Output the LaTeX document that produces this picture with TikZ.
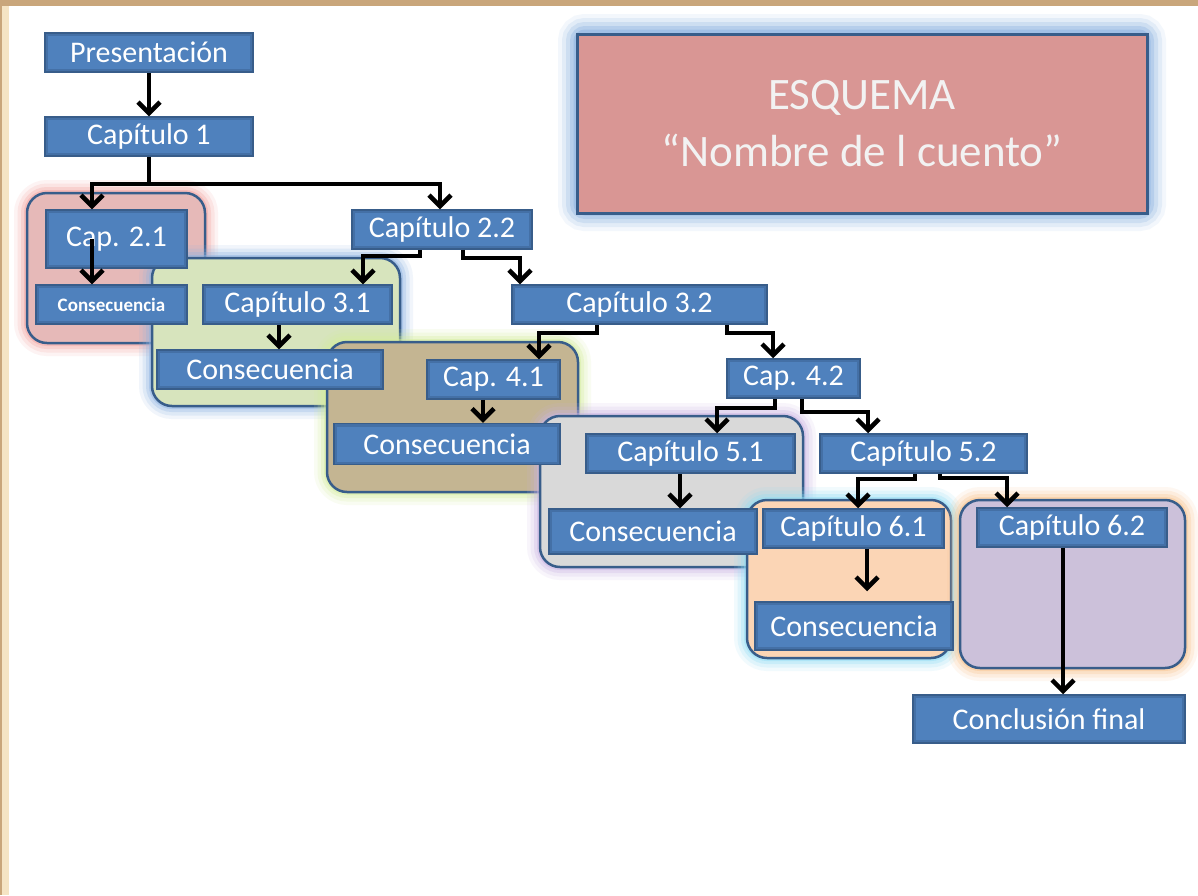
\documentclass[tikz,border=0pt]{standalone}
\usepackage{fontspec}
\setmainfont{Carlito}
\usetikzlibrary{arrows.meta,positioning,calc}
\definecolor{cuboxblue}{HTML}{4F81BD}
\definecolor{cuedge}{HTML}{385D8A}
\definecolor{cutitle}{HTML}{D99694}
\definecolor{cuglowblue}{HTML}{8DB3E2}
\definecolor{cured}{HTML}{E6B9B8}
\definecolor{curedglow}{HTML}{F2A09D}
\definecolor{cugreen}{HTML}{D7E4BD}
\definecolor{cutan}{HTML}{C4B592}
\definecolor{cutanglow}{HTML}{D5EE9A}
\definecolor{cugray}{HTML}{D9D9D9}
\definecolor{cugrayglow}{HTML}{C9B3E3}
\definecolor{cupeach}{HTML}{FBD5B5}
\definecolor{cupeachglow}{HTML}{8FDDF5}
\definecolor{cupurple}{HTML}{CCC1DA}
\definecolor{cupurpleglow}{HTML}{F9C48C}
\definecolor{cuframe}{HTML}{C9A67B}
\definecolor{cucream}{HTML}{F5E4C4}

% rounded group with a soft glow: fill, glow, corner, corner
\newcommand{\grupo}[4]{%
  \foreach \w/\o in {26/.12,19/.18,12/.28,6/.45}
    \draw[#2,opacity=\o,line width=\w pt,rounded corners=20pt] #3 rectangle #4;
  \draw[grp,fill=#1] #3 rectangle #4;}

\begin{document}
\begin{tikzpicture}[x=1pt,y=-1pt,>=Latex]
    \tikzset{capbox/.style={draw=cuedge,line width=1.5pt,fill=cuboxblue,text=white,inner sep=0pt,minimum height=39pt,font=\fontsize{30}{32}\selectfont,
        path picture={\draw[cuedge,opacity=.45,line width=6pt] (path picture bounding box.south west) rectangle (path picture bounding box.north east);}},
      grp/.style={draw=cuedge,line width=2.5pt,rounded corners=20pt},
      arrow/.style={-{Straight Barb[length=11pt,width=22pt]},line width=4.5pt,black}}
    \useasboundingbox (0,0) rectangle (1198,895);
    \fill[white] (0,0) rectangle (1198,895);
    \fill[cucream] (2,0) rectangle (9,895);
    \fill[cuframe] (0,0) rectangle (2,895);
    \fill[cuframe] (0,0) rectangle (1198,6);

    % titulo
    \foreach \w/\o in {38/.10,30/.16,22/.24,14/.35,7/.5}
      \draw[cuglowblue,opacity=\o,line width=\w pt,rounded corners=8pt] (577,33) rectangle (1147,212);
    \node[draw=cuedge,line width=3pt,fill=cutitle,text=white!95!black,align=center,minimum width=570pt,minimum height=179pt,
      font=\fontsize{45}{57}\selectfont] (titulo) at (862,124) {ESQUEMA\\“Nombre de l cuento”};

    % grupos
    \grupo{cured}{curedglow}{(27,193)}{(205,343)}
    \grupo{cugreen}{cuglowblue}{(152,258)}{(400,406)}
    \grupo{cutan}{cutanglow}{(327,342)}{(578,492)}
    \grupo{cugray}{cugrayglow}{(540,416)}{(803,567)}
    \grupo{cupeach}{cupeachglow}{(747,500)}{(951,658)}
    \grupo{cupurple}{cupurpleglow}{(960,500)}{(1185,668)}

    \node[capbox,minimum width=208pt] (pres) at (149,52.5) {Presentación};
    \node[capbox,minimum width=208pt] (cap1) at (149,136.5) {Capítulo 1};
    \node[capbox,minimum width=141pt,minimum height=58pt] (c21) at (116.5,239) {Cap. 2.1};
    \node[capbox,minimum width=151pt,font=\fontsize{19}{21}\selectfont\bfseries] (cons21) at (111.5,304.5) {Consecuencia};
    \node[capbox,minimum width=180pt] (c22) at (442,229.5) {Capítulo 2.2};
    \node[capbox,minimum width=189pt] (c31) at (297.5,304.5) {Capítulo 3.1};
    \node[capbox,minimum width=226pt] (cons31) at (270,369.5) {Consecuencia};
    \node[capbox,minimum width=255pt] (c32) at (639.5,304.5) {Capítulo 3.2};
    \node[capbox,minimum width=133pt] (c41) at (493.5,379.5) {Cap. 4.1};
    \node[capbox,minimum width=226pt,minimum height=41pt] (cons41) at (447,444) {Consecuencia};
    \node[capbox,minimum width=133pt] (c42) at (793.5,378.5) {Cap. 4.2};
    \node[capbox,minimum width=209pt] (c51) at (690.5,453.5) {Capítulo 5.1};
    \node[capbox,minimum width=208pt,minimum height=45pt] (cons51) at (653,531.5) {Consecuencia};
    \node[capbox,minimum width=207pt] (c52) at (923.5,453.5) {Capítulo 5.2};
    \node[capbox,minimum width=181pt] (c61) at (853.5,528.5) {Capítulo 6.1};
    \node[capbox,minimum width=198pt,minimum height=48pt] (cons61) at (854,626) {Consecuencia};
    \node[capbox,minimum width=190pt] (c62) at (1072,527.5) {Capítulo 6.2};
    \node[capbox,minimum width=272pt,minimum height=48pt] (concl) at (1049,719) {Conclusión final};

    \draw[arrow] (pres.south) -- (cap1.north);
    \draw[arrow] (cap1.south) -- ++(0,27) -| ([xshift=-24.5pt]c21.north);
    \draw[arrow] (cap1.south) -- ++(0,27) -| ([xshift=-2pt]c22.north);
    \draw[arrow] ([xshift=-24.5pt]c21.center) -- ([xshift=-24.5pt]c21.center |- cons21.north);
    \draw[arrow] ([xshift=-22pt]c22.south) -- ++(0,6) -| ([xshift=65.5pt]c31.north);
    \draw[arrow] ([xshift=21pt]c22.south) -- ++(0,8) -| ([xshift=-119.5pt]c32.north);
    \draw[arrow] ([xshift=-18.5pt]c31.south) -- ([xshift=-18.5pt]c31.south |- cons31.north);
    \draw[arrow] ([xshift=-42.5pt]c32.south) -- ++(0,8) -| ([xshift=45.5pt]c41.north);
    \draw[arrow] ([xshift=87.5pt]c32.south) -- ++(0,8) -| ([xshift=-20.5pt]c42.north);
    \draw[arrow] ([xshift=-10.5pt]c41.south) -- ([xshift=-10.5pt]c41.south |- cons41.north);
    \draw[arrow] ([xshift=-18.5pt]c42.south) -- ++(0,9) -| ([xshift=26.5pt]c51.north);
    \draw[arrow] ([xshift=8.5pt]c42.south) -- ++(0,13) -| ([xshift=-55.5pt]c52.north);
    \draw[arrow] ([xshift=-10.5pt]c51.south) -- ([xshift=-10.5pt]c51.south |- cons51.north);
    \draw[arrow] ([xshift=-8.5pt]c52.south) -- ++(0,5) -| ([xshift=4.5pt]c61.north);
    \draw[arrow] ([xshift=16.5pt]c52.south) -- ++(0,4) -| ([xshift=-65pt]c62.north);
    \draw[arrow,shorten >=10pt] ([xshift=13.5pt]c61.south) -- ([xshift=13.5pt]c61.south |- cons61.north);
    \draw[arrow] ([xshift=-9pt]c62.south) -- ([xshift=-9pt]c62.south |- concl.north);
  \end{tikzpicture}
\end{document}
